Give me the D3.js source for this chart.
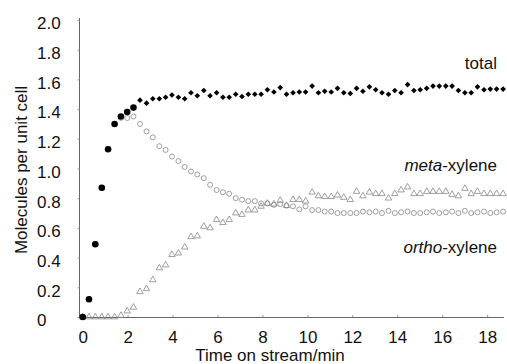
<!DOCTYPE html>
<html>
<head>
<meta charset="utf-8">
<script src="https://cdn.jsdelivr.net/npm/d3@7"></script>
<style>
  body { margin: 0; background: #fff; }
  svg text { font-family: "Liberation Sans", Arial, sans-serif; fill: #111; }
</style>
</head>
<body>
<div id="chart"></div>
<script>
// sample times (min)
const times = [0.00,0.28,0.56,0.85,1.13,1.42,1.70,1.98,2.26,2.55,
  2.84,3.12,3.41,3.69,3.97,4.26,4.54,4.82,5.10,5.39,
  5.67,5.96,6.24,6.52,6.81,7.09,7.37,7.66,7.94,8.22,
  8.51,8.79,9.07,9.36,9.64,9.92,10.21,10.49,10.77,11.06,
  11.34,11.62,11.91,12.19,12.47,12.76,13.04,13.32,13.61,13.89,
  14.17,14.46,14.74,15.02,15.31,15.59,15.87,16.16,16.44,16.72,
  17.01,17.29,17.57,17.86,18.14,18.42,18.71];

const total = [0.00,0.12,0.49,0.87,1.13,1.30,1.35,1.38,1.41,1.46,
  1.44,1.47,1.47,1.48,1.495,1.48,1.47,1.51,1.49,1.525,
  1.49,1.51,1.48,1.48,1.50,1.485,1.50,1.50,1.50,1.53,
  1.515,1.545,1.50,1.51,1.515,1.515,1.555,1.51,1.52,1.515,
  1.54,1.51,1.505,1.54,1.52,1.55,1.53,1.51,1.50,1.525,
  1.51,1.565,1.525,1.53,1.54,1.555,1.555,1.555,1.555,1.525,
  1.51,1.51,1.55,1.53,1.535,1.535,1.535];

const meta = [0,0,0,0,0,0,0.01,0.04,0.065,0.17,
  0.19,0.25,0.33,0.35,0.42,0.43,0.47,0.54,0.545,0.61,
  0.60,0.655,0.635,0.655,0.70,0.69,0.72,0.72,0.745,0.765,
  0.76,0.785,0.75,0.79,0.79,0.78,0.84,0.815,0.81,0.81,
  0.82,0.805,0.79,0.845,0.815,0.84,0.83,0.83,0.80,0.83,
  0.855,0.875,0.83,0.83,0.845,0.845,0.845,0.845,0.825,0.815,
  0.865,0.83,0.845,0.83,0.83,0.83,0.83];

const ortho = [0.00,0.12,0.49,0.87,1.13,1.30,1.34,1.34,1.35,1.30,
  1.25,1.21,1.15,1.125,1.08,1.05,1.01,0.98,0.96,0.935,
  0.89,0.855,0.84,0.83,0.80,0.79,0.78,0.78,0.765,0.765,
  0.755,0.76,0.75,0.745,0.725,0.745,0.72,0.72,0.71,0.71,
  0.70,0.70,0.70,0.70,0.71,0.705,0.71,0.70,0.715,0.70,
  0.705,0.71,0.70,0.70,0.705,0.71,0.70,0.705,0.71,0.70,
  0.715,0.70,0.705,0.71,0.70,0.705,0.71];

const xTicks = [0, 2, 4, 6, 8, 10, 12, 14, 16, 18];
const yTicks = [0, 0.2, 0.4, 0.6, 0.8, 1.0, 1.2, 1.4, 1.6, 1.8, 2.0];

const width = 507, height = 364;
const fontSize = 17;
const svg = d3.select('#chart').append('svg')
  .attr('width', width)
  .attr('height', height);

const x = d3.scaleLinear().domain([0, 18.75]).range([82.7, 504]);
const y = d3.scaleLinear().domain([0, 2]).range([317, 20]);

// axes
const axisColor = '#666';
const xAxis = svg.append('g')
  .attr('transform', `translate(0,${y(0)})`)
  .call(d3.axisBottom(x).tickValues(xTicks).tickSize(-2).tickSizeOuter(0).tickPadding(14)
    .tickFormat(d3.format('d')));
xAxis.select('.domain').attr('d', `M${79.5},0.5H504`).attr('stroke', axisColor);
xAxis.selectAll('.tick line').attr('stroke', '#999');
xAxis.selectAll('text').attr('font-size', fontSize).attr('fill', '#111')
  .attr('font-family', '"Liberation Sans", Arial, sans-serif');

const yAxis = svg.append('g')
  .attr('transform', 'translate(79.5,0)')
  .call(d3.axisLeft(y).tickValues(yTicks).tickSize(2).tickSizeOuter(0).tickPadding(0)
    .tickFormat(d => d === 0 ? '0' : d3.format('.1f')(d)));
yAxis.select('.domain').attr('d', `M0,${18}V${y(0) + 0.5}`).attr('stroke', axisColor);
yAxis.selectAll('.tick line').attr('stroke', '#999');
yAxis.selectAll('text')
  .attr('text-anchor', 'start')
  .attr('x', -42.5)
  .attr('dy', '0.52em')
  .attr('font-size', fontSize).attr('fill', '#111')
  .attr('font-family', '"Liberation Sans", Arial, sans-serif');

// axis titles
svg.append('text')
  .attr('x', 270).attr('y', 361)
  .attr('text-anchor', 'middle')
  .attr('font-size', fontSize)
  .text('Time on stream/min');

svg.append('text')
  .attr('transform', 'translate(27,170) rotate(-90)')
  .attr('text-anchor', 'middle')
  .attr('font-size', fontSize)
  .text('Molecules per unit cell');

const rows = times.map((t, i) => ({ t, total: total[i], meta: meta[i], ortho: ortho[i], i }));

// ortho-xylene: open circles
svg.append('g').selectAll('circle')
  .data(rows)
  .enter().append('circle')
  .attr('cx', d => x(d.t))
  .attr('cy', d => y(d.ortho))
  .attr('r', 2.5)
  .attr('fill', 'none')
  .attr('stroke', '#888')
  .attr('stroke-width', 0.8);

// meta-xylene: open triangles
const tri = d3.symbol().type(d3.symbolTriangle).size(18);
svg.append('g').selectAll('path')
  .data(rows)
  .enter().append('path')
  .attr('d', tri)
  .attr('transform', d => `translate(${x(d.t)},${y(d.meta)})`)
  .attr('fill', 'none')
  .attr('stroke', '#888')
  .attr('stroke-width', 0.8);

// total: filled circles early on, diamonds after
const diamond = d3.symbol().type(d3.symbolSquare).size(16);
svg.append('g').selectAll('circle')
  .data(rows.filter(d => d.i <= 8))
  .enter().append('circle')
  .attr('cx', d => x(d.t))
  .attr('cy', d => y(d.total))
  .attr('r', 3.3)
  .attr('fill', '#000');
svg.append('g').selectAll('path')
  .data(rows.filter(d => d.i > 8))
  .enter().append('path')
  .attr('d', diamond)
  .attr('transform', d => `translate(${x(d.t)},${y(d.total)}) rotate(45)`)
  .attr('fill', '#000');

// series labels
svg.append('text').attr('x', 497).attr('y', 69).attr('text-anchor', 'end')
  .attr('font-size', fontSize).text('total');

const metaLbl = svg.append('text').attr('x', 497).attr('y', 171).attr('text-anchor', 'end')
  .attr('font-size', fontSize);
metaLbl.append('tspan').attr('font-style', 'italic').text('meta');
metaLbl.append('tspan').text('-xylene');

const orthoLbl = svg.append('text').attr('x', 497).attr('y', 253).attr('text-anchor', 'end')
  .attr('font-size', fontSize);
orthoLbl.append('tspan').attr('font-style', 'italic').text('ortho');
orthoLbl.append('tspan').text('-xylene');
</script>
</body>
</html>
